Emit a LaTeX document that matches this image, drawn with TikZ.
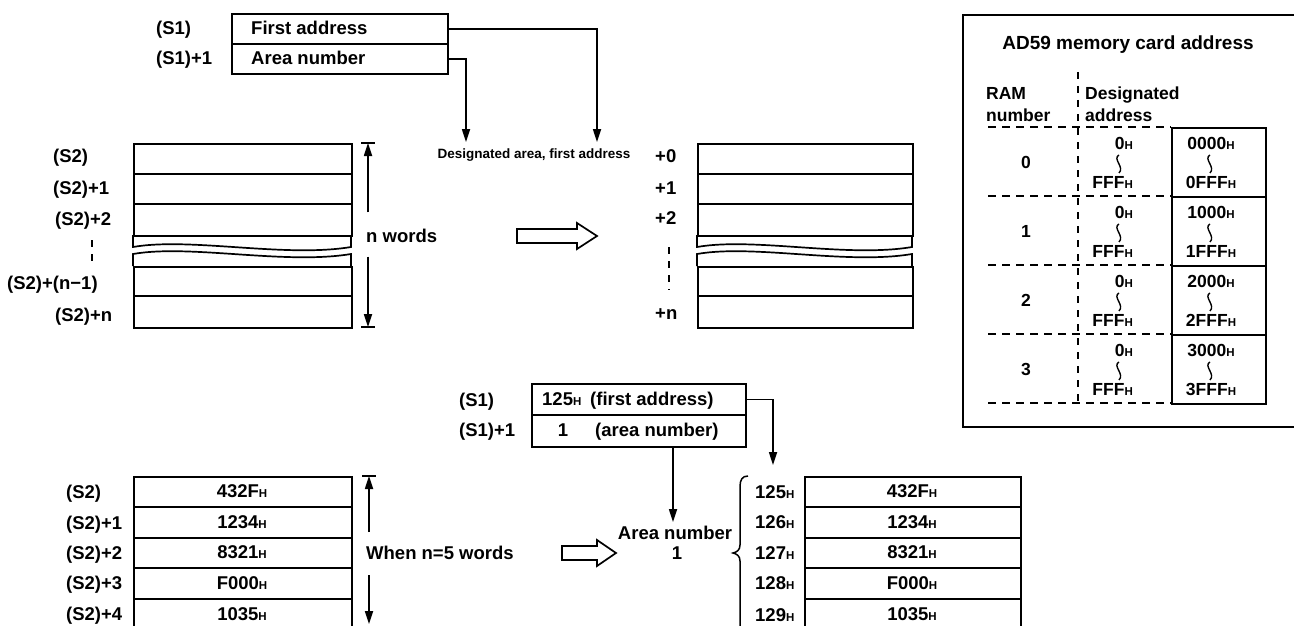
\documentclass[tikz,border=0pt]{standalone}
\usepackage{fontspec}
\setmainfont{Liberation Sans}
\usetikzlibrary{arrows.meta}
\newcommand\fbig{\fontsize{18.5}{20}\selectfont\bfseries}
\newcommand\fttl{\fontsize{19}{21}\selectfont\bfseries}
\newcommand\fsml{\fontsize{13.5}{15}\selectfont\bfseries}
\newcommand\fmid{\fontsize{17.5}{19}\selectfont\bfseries}
\newcommand\ftab{\fontsize{17.5}{18}\selectfont\bfseries}
\newcommand\hb{{\fontsize{11.5}{11}\selectfont H}}
\newcommand\hsm{{\fontsize{11.5}{10}\selectfont H}}
\tikzset{
 lbl/.style={font=\fbig, inner sep=0pt, text height=13pt, text depth=0pt},
 ttl/.style={font=\fttl, inner sep=0pt, text height=13.5pt, text depth=0pt},
 sml/.style={font=\fsml, inner sep=0pt, text height=10pt, text depth=0pt},
 hdr/.style={font=\fmid, inner sep=0pt, text height=12.5pt, text depth=0pt},
 tab/.style={font=\ftab, inner sep=0pt, text height=12.5pt, text depth=0pt},
 ln/.style={line width=1.7pt},
 cell/.style={draw, line width=1.7pt, inner sep=0pt, anchor=north west, minimum width=#1},
 arr/.style={line width=1.7pt, -{Triangle[length=13pt,width=8pt]}},
 dsh/.style={line width=1.6pt, dash pattern=on 8pt off 6pt},
 vdsh/.style={line width=1.6pt, dash pattern=on 7pt off 7pt},
 squig/.style={line width=1.4pt},
 hollow/.style={line width=1.7pt, line join=miter},
}
\begin{document}
\begin{tikzpicture}[x=1pt,y=-1pt]
\useasboundingbox (0,0) rectangle (1294,626);
\fill[white] (0,0) rectangle (1294,626);
\clip (0,0) rectangle (1294,626);

% ===== top: S1 block =====
\node[lbl, anchor=west] (s1a) at (156,28) {(S1)};
\node[lbl, anchor=west] (s1b) at (156,58) {(S1)+1};
\node[cell=216pt, minimum height=30pt] (fa) at (231,13) {};
\node[cell=216pt, minimum height=30pt] (an) at (231,43) {};
\node[lbl, anchor=west] (fatx) at (251,28) {First address};
\node[lbl, anchor=west] (antx) at (251,58) {Area number};
\coordinate (t1) at (597,142);
\coordinate (t2) at (466,142);
\draw[arr] (fa.east) -| (t1);
\draw[arr] (an.east) -| (t2);
\node[sml] (dlab) at (534,153) {Designated area, first address};

% ===== top-left table =====
\node[cell=218pt, minimum height=30pt] (l0) at (133,143) {};
\node[cell=218pt, minimum height=30pt] (l1) at (133,173) {};
\node[cell=218pt, minimum height=32pt] (l2) at (133,203) {};
\draw[ln] (133,235) -- (133,247) .. controls (190,237) and (285,258) .. (351,247) -- (351,235);
\draw[ln] (133,266) -- (133,254) .. controls (190,244) and (285,265) .. (351,254) -- (351,266);
\node[cell=218pt, minimum height=29pt] (l3) at (133,266) {};
\node[cell=218pt, minimum height=32pt] (l4) at (133,295) {};
\node[lbl, anchor=west] (ls0) at (53,156) {(S2)};
\node[lbl, anchor=west] (ls1) at (53,188) {(S2)+1};
\node[lbl, anchor=west] (ls2) at (55,219) {(S2)+2};
\draw[vdsh] (92,240) -- (92,263);
\node[lbl, anchor=west] (ls3) at (7,283) {(S2)+(n−1)};
\node[lbl, anchor=west] (ls4) at (55,315) {(S2)+n};
% dimension
\node[lbl, anchor=west] (nw) at (366,236) {n words};
\coordinate (dt) at (368,143);
\coordinate (db) at (368,327);
\draw[ln] (361,143) -- (375,143);
\draw[ln] (361,327) -- (375,327);
\draw[arr] (dt |- nw.north) ++(0,-17) -- (dt);
\draw[arr] (db |- nw.south) ++(0,14) -- (db);
% hollow arrow
\draw[hollow] (517,229) -- (577,229) -- (577,223) -- (597,236) -- (577,249) -- (577,243) -- (517,243) -- cycle;

% ===== top-right table =====
\node[cell=215pt, minimum height=30pt] (r0) at (697,143) {};
\node[cell=215pt, minimum height=30pt] (r1) at (697,173) {};
\node[cell=215pt, minimum height=32pt] (r2) at (697,203) {};
\draw[ln] (697,235) -- (697,247) .. controls (754,237) and (847,258) .. (912,247) -- (912,235);
\draw[ln] (697,266) -- (697,254) .. controls (754,244) and (847,265) .. (912,254) -- (912,266);
\node[cell=215pt, minimum height=29pt] (r3) at (697,266) {};
\node[cell=215pt, minimum height=32pt] (r4) at (697,295) {};
\node[lbl, anchor=west] (rp0) at (655,156) {+0};
\node[lbl, anchor=west] (rp1) at (655,188) {+1};
\node[lbl, anchor=west] (rp2) at (655,218) {+2};
\draw[vdsh] (669,247) -- (669,290);
\node[lbl, anchor=west] (rpn) at (655,313) {+n};

% ===== memory card box =====
\node[draw, ln, anchor=north west, inner sep=0pt, minimum width=345pt, minimum height=412pt] (card) at (962,14) {};
\node[ttl] (ttl) at (1128,43) {AD59 memory card address};
\node[hdr, anchor=west] (ram1) at (986,93) {RAM};
\node[hdr, anchor=west] (ram2) at (986,115) {number};
\node[hdr, anchor=west] (des1) at (1085,93) {Designated};
\node[hdr, anchor=west] (des2) at (1085,115) {address};
\draw[vdsh] (1078,72) -- (1078,403);
\foreach \k/\T/\a/\b in {0/127/0000/0FFF, 1/196/1000/1FFF, 2/265/2000/2FFF, 3/334/3000/3FFF}{
  \draw[dsh] (988,\T) -- (1171,\T);
  \node[cell=94pt, minimum height=69pt] (mc\k) at (1171,\T) {};
  \node[tab] (rn\k) at (1026,\T+35) {\k};
  \node[tab, anchor=east] (lo\k) at (1133,\T+16) {0\hsm};
  \node[tab, anchor=east] (hi\k) at (1133,\T+55) {FFF\hsm};
  \draw[squig] (1119,\T+28) .. controls +(-7,4) and +(6,-6) .. +(0,18);
  \node[tab] (ca\k) at (1211,\T+16) {\a\hsm};
  \node[tab] (cb\k) at (1211,\T+55) {\b\hsm};
  \draw[squig] (1210,\T+28) .. controls +(-7,4) and +(6,-6) .. +(0,18);
}
\draw[dsh] (988,403) -- (1171,403);

% ===== bottom: S1 block =====
\node[lbl, anchor=west] (b1a) at (459,400) {(S1)};
\node[lbl, anchor=west] (b1b) at (459,430) {(S1)+1};
\node[cell=214pt, minimum height=31pt] (fa2) at (531,383) {};
\node[cell=214pt, minimum height=32pt] (an2) at (531,414) {};
\node[lbl, anchor=west] (fa2a) at (542,399) {125\hb};
\node[lbl, anchor=west] (fa2b) at (590,399) {(first address)};
\node[lbl] (an2a) at (563,430) {1};
\node[lbl, anchor=west] (an2b) at (595,430) {(area number)};
\coordinate (t3) at (773,465);
\coordinate (t4) at (673,522);
\draw[arr] (fa2.east) -| (t3);
\draw[arr] (an2.south -| t4) -- (t4);
\node[lbl] (anum) at (675,533) {Area number};
\node[lbl] (anum1) at (677,553) {1};
\draw[hollow] (562,546) -- (597,546) -- (597,540) -- (616,553) -- (597,566) -- (597,560) -- (562,560) -- cycle;

% ===== bottom tables =====
\foreach \i/\y/\h in {0/476/30, 1/506/31, 2/537/30, 3/567/31, 4/598/40}{
  \node[cell=218pt, minimum height=\h pt] (bl\i) at (133,\y) {};
  \node[cell=216pt, minimum height=\h pt] (br\i) at (804,\y) {};
}
\foreach \i/\y/\v in {0/491/432F, 1/522/1234, 2/552/8321, 3/583/F000, 4/614/1035}{
  \node[lbl] (blv\i) at (242,\y) {\v\hb};
  \node[lbl] (brv\i) at (912,\y) {\v\hb};
}
\node[lbl, anchor=west] (bs0) at (66,492) {(S2)};
\node[lbl, anchor=west] (bs1) at (66,523) {(S2)+1};
\node[lbl, anchor=west] (bs2) at (66,553) {(S2)+2};
\node[lbl, anchor=west] (bs3) at (66,583) {(S2)+3};
\node[lbl, anchor=west] (bs4) at (66,614) {(S2)+4};
\node[lbl, anchor=west] (bw) at (366,553) {When n=5 words};
\coordinate (bdt) at (369,476);
\coordinate (bdb) at (369,624);
\draw[ln] (362,476) -- (376,476);
\draw[arr] (369,532) -- (bdt);
\draw[arr] (369,575) -- (bdb);
% brace and addresses
\draw[line width=1.5pt] (748,476) .. controls (742,476) and (740,480) .. (740,487) -- (740,545) .. controls (740,550) and (737,552) .. (733,553) .. controls (737,554) and (740,556) .. (740,561) -- (740,640);
\node[lbl, anchor=west] (ad0) at (755,492) {125\hb};
\node[lbl, anchor=west] (ad1) at (755,522) {126\hb};
\node[lbl, anchor=west] (ad2) at (755,553) {127\hb};
\node[lbl, anchor=west] (ad3) at (755,583) {128\hb};
\node[lbl, anchor=west] (ad4) at (755,615) {129\hb};
\end{tikzpicture}
\end{document}
